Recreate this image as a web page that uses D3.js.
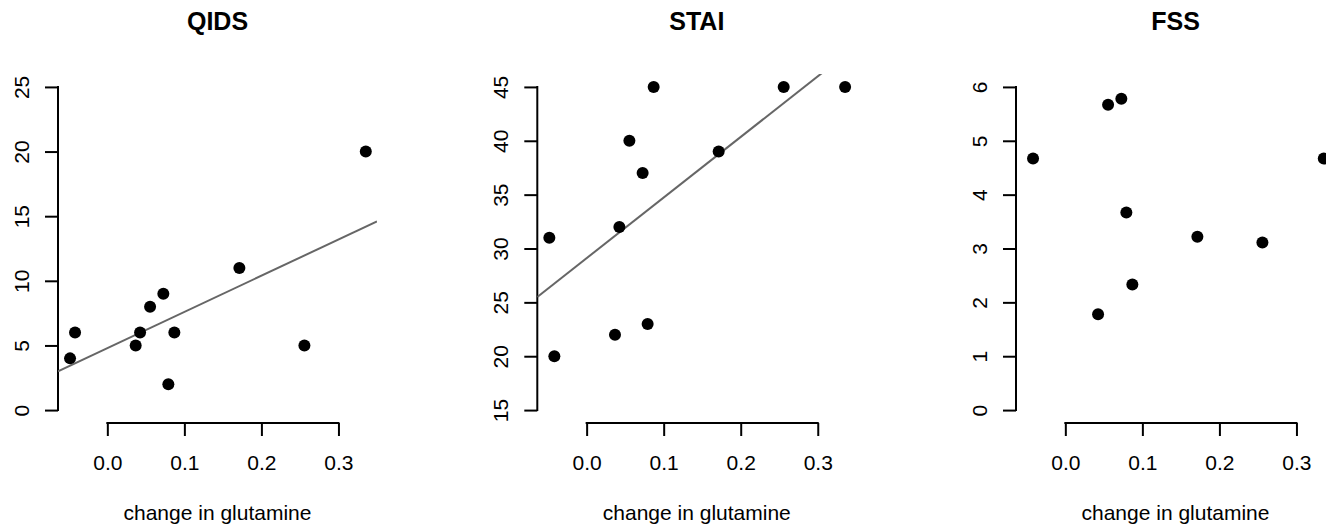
<!DOCTYPE html>
<html><head><meta charset="utf-8">
<script src="https://cdn.jsdelivr.net/npm/d3@7"></script>
<style>
html,body{margin:0;padding:0;background:#fff;}
svg{display:block;font-family:"Liberation Sans",Arial,sans-serif;}
</style></head>
<body>
<svg id="chart" width="1326" height="531"></svg>
<script>
// ---- data ----
const glutamine = [-0.0484, -0.0419, 0.0368, 0.0425, 0.0555, 0.0727, 0.0792, 0.0870, 0.1714, 0.2558, 0.3355];
const qids = [4, 6, 5, 6, 8, 9, 2, 6, 11, 5, 20];
const stai = [31, 20, 22, 32, 40, 37, 23, 45, 39, 45, 45];
const fss  = [null, 4.67, null, 1.78, 5.67, 5.78, 3.67, 2.33, 3.22, 3.11, 4.67];
const titles = ["QIDS", "STAI", "FSS"];
const yLimits = [[0, 25], [15, 45], [0, 6]];
const yTicks = [[0, 5, 10, 15, 20, 25], [15, 20, 25, 30, 35, 40, 45], [0, 1, 2, 3, 4, 5, 6]];
const xTicks = [0.0, 0.1, 0.2, 0.3];
const xLimits = [-0.0487, 0.3347];
const showFit = [true, true, false];
const xLabel = "change in glutamine";
const seriesList = [qids, stai, fss];

// ---- layout ----
const svg = d3.select("#chart");
const panelLefts = [58, 537.3, 1016];
const plotW = 319, plotTop = 74, plotBottom = 423;
const tickLen = 13;

function ext(lim) { const s = lim[1] - lim[0]; return [lim[0] - 0.04 * s, lim[1] + 0.04 * s]; }

function ols(xs, ys) {
  const pts = xs.map((x, i) => [x, ys[i]]).filter(p => p[1] != null);
  const mx = d3.mean(pts, p => p[0]), my = d3.mean(pts, p => p[1]);
  let sxy = 0, sxx = 0;
  pts.forEach(p => { sxy += (p[0] - mx) * (p[1] - my); sxx += (p[0] - mx) ** 2; });
  const b = sxy / sxx; return { a: my - b * mx, b };
}

seriesList.forEach((ys, k) => {
  const left = panelLefts[k];
  const x = d3.scaleLinear().domain(ext(xLimits)).range([left, left + plotW]);
  const y = d3.scaleLinear().domain(ext(yLimits[k])).range([plotBottom, plotTop]);
  const g = svg.append("g");

  const clipId = "clip" + k;
  svg.append("clipPath").attr("id", clipId).append("rect")
    .attr("x", left).attr("y", plotTop).attr("width", plotW).attr("height", plotBottom - plotTop);

  // title
  g.append("text").attr("x", left + plotW / 2).attr("y", 30)
    .attr("text-anchor", "middle").attr("font-weight", "bold").attr("font-size", 25)
    .text(titles[k]);

  // y axis
  const ya = g.append("g").attr("transform", `translate(${left},0)`)
    .call(d3.axisLeft(y).tickValues(yTicks[k]).tickSize(tickLen).tickFormat(d3.format("d")));
  ya.select(".domain").remove();
  ya.selectAll(".tick line").attr("stroke", "#000").attr("stroke-width", 2);
  ya.selectAll(".tick text").attr("x", null).attr("dy", null)
    .attr("transform", "translate(-29,0) rotate(-90)")
    .attr("text-anchor", "middle").attr("font-size", 21).attr("fill", "#000")
    .attr("font-family", "Liberation Sans, Arial, sans-serif");
  const yt = yTicks[k];
  g.append("line").attr("x1", left).attr("x2", left)
    .attr("y1", y(yt[0])).attr("y2", y(yt[yt.length - 1]))
    .attr("stroke", "#000").attr("stroke-width", 2).attr("stroke-linecap", "square");

  // x axis
  const xa = g.append("g").attr("transform", `translate(0,${plotBottom})`)
    .call(d3.axisBottom(x).tickValues(xTicks).tickSize(tickLen).tickFormat(d3.format(".1f")));
  xa.select(".domain").remove();
  xa.selectAll(".tick line").attr("stroke", "#000").attr("stroke-width", 2);
  xa.selectAll(".tick text").attr("y", 47).attr("dy", null)
    .attr("font-size", 21).attr("fill", "#000")
    .attr("font-family", "Liberation Sans, Arial, sans-serif");
  g.append("line").attr("y1", plotBottom).attr("y2", plotBottom)
    .attr("x1", x(xTicks[0])).attr("x2", x(xTicks[xTicks.length - 1]))
    .attr("stroke", "#000").attr("stroke-width", 2).attr("stroke-linecap", "square");

  // x label
  g.append("text").attr("x", left + plotW / 2).attr("y", 520)
    .attr("text-anchor", "middle").attr("font-size", 21).text(xLabel);

  // fit line
  if (showFit[k]) {
    const f = ols(glutamine, ys);
    const [x0, x1] = x.domain();
    g.append("line").attr("clip-path", `url(#${clipId})`)
      .attr("x1", x(x0)).attr("y1", y(f.a + f.b * x0))
      .attr("x2", x(x1)).attr("y2", y(f.a + f.b * x1))
      .attr("stroke", "#666").attr("stroke-width", 2);
  }

  // points
  const pts = glutamine.map((gx, i) => ({ gx, v: ys[i] })).filter(d => d.v != null);
  g.selectAll("circle").data(pts).enter().append("circle")
    .attr("cx", d => x(d.gx)).attr("cy", d => y(d.v)).attr("r", 6).attr("fill", "#000");
});
</script>
</body></html>
